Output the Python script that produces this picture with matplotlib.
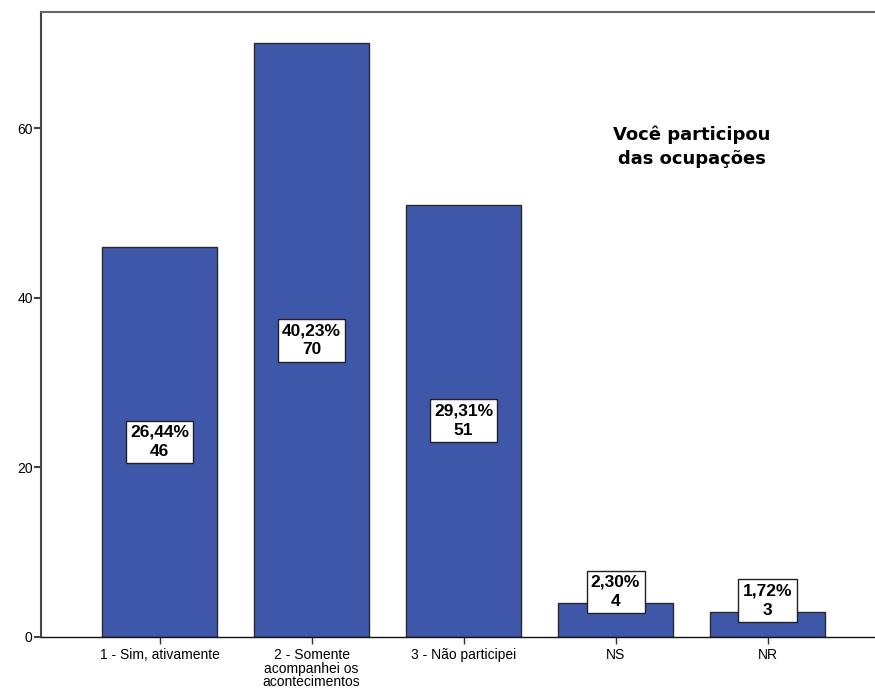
import matplotlib
matplotlib.use("Agg")
import matplotlib.pyplot as plt

categories = ["1 - Sim, ativamente", "2 - Somente\nacompanhei os\nacontecimentos",
              "3 - Não participei", "NS", "NR"]
counts = [46, 70, 51, 4, 3]
percents = ["26,44%", "40,23%", "29,31%", "2,30%", "1,72%"]
yticks = [0, 20, 40, 60]
title = "Você participou\ndas ocupações"

plt.rcParams['font.family'] = ['Liberation Sans', 'DejaVu Sans']

fig = plt.figure(figsize=(8.75, 6.98), dpi=100)
W, H = 875, 698
ax = fig.add_axes([41 / W, 1 - 637 / H, (875 - 41) / W, (637 - 12) / H])

x = list(range(len(categories)))
ax.bar(x, counts, width=0.757, color="#3F57A8", edgecolor="#2b2b2b", linewidth=1.0, zorder=2)

for xi, v, p in zip(x, counts, percents):
    ly = v / 2 if v > 15 else v + 1.3
    ax.text(xi, ly, f"{p}\n{v}", ha="center", va="center", fontsize=12.5, fontweight="bold",
            linespacing=1.35, zorder=3,
            bbox=dict(boxstyle="square,pad=0.25", facecolor="white", edgecolor="#222222", linewidth=1.0))

ax.text(3.5, 57.8, title, ha="center", va="center", fontsize=13, fontweight="bold",
        family=["DejaVu Sans"], linespacing=1.45)

ax.set_xlim(-0.78, 4.707)
ax.set_ylim(0, 73.7)
ax.set_yticks(yticks)
ax.set_xticks(x)
ax.set_xticklabels(categories, fontsize=10, linespacing=0.95)
ax.tick_params(axis="y", labelsize=10, length=5, width=1.5, color="#444444", pad=1)
ax.tick_params(axis="x", length=5, width=1.0, color="#333333", pad=3)

ax.spines["right"].set_visible(False)
ax.spines["top"].set_color("#666666")
ax.spines["top"].set_linewidth(1.5)
ax.spines["left"].set_color("#444444")
ax.spines["left"].set_linewidth(1.5)
ax.spines["bottom"].set_color("#111111")
ax.spines["bottom"].set_linewidth(1.0)

fig.savefig("out.png", dpi=100)
